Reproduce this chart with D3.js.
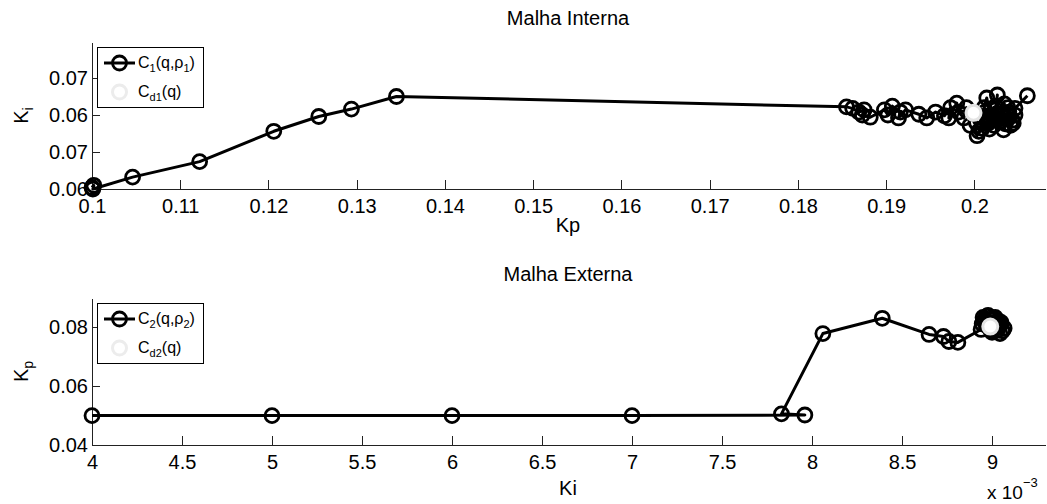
<!DOCTYPE html>
<html>
<head>
<meta charset="utf-8">
<script src="https://cdn.jsdelivr.net/npm/d3@7"></script>
<style>
  body { margin: 0; background: #fff; }
  text { font-family: "Liberation Sans", Arial, Helvetica, sans-serif; fill: #000; }
  .axis path, .axis line { stroke: #222; stroke-width: 1; shape-rendering: crispEdges; }
  .axis text { font-size: 20px; fill: #000; }
</style>
</head>
<body>
<div id="canvas"></div>
<script>
// ---- data: inner loop (Malha Interna) ----
var innerKp = [0.1000,0.1002,0.1001,0.1046,0.1122,0.1206,0.1257,0.1294,0.1345,
  0.1855,0.1862,0.1869,0.1875,0.1873,0.1882,0.1898,0.1902,0.1907,0.1916,0.1914,0.1922,
  0.1937,0.1946,0.1956,0.1966,0.1973,0.1971,0.1980,0.1982,0.1988,0.1991,0.1995,0.2003,
  0.2009,0.2007,0.2014,0.2018,0.2012,0.2022,0.2026,0.2024,0.2029,0.2034,0.2033,0.2039,
  0.2036,0.2041,0.2043,0.2046,0.2021,0.2016,0.2031,0.2044,0.2038,
  0.2005,0.2017,0.2027,0.2011,0.2035,0.2024,0.2008,0.2030,0.2019,0.2040,
  0.2046,0.2060];
var innerKi = [0.0552,0.0555,0.0550,0.0566,0.0587,0.0628,0.0648,0.0658,0.0675,
  0.0661,0.0659,0.0654,0.0657,0.0650,0.0647,0.0657,0.0650,0.0662,0.0654,0.0646,0.0657,
  0.0651,0.0646,0.0654,0.0649,0.0660,0.0646,0.0666,0.0654,0.0646,0.0660,0.0636,0.0622,
  0.0632,0.0643,0.0673,0.0646,0.0654,0.0636,0.0677,0.0657,0.0641,0.0665,0.0630,0.0654,
  0.0646,0.0636,0.0643,0.0650,0.0648,0.0639,0.0652,0.0639,0.0660,
  0.0628,0.0631,0.0645,0.0660,0.0638,0.0662,0.0648,0.0650,0.0643,0.0648,
  0.0659,0.0676];
var innerTarget = [0.1999, 0.0653];
var innerXTicks = [0.1,0.11,0.12,0.13,0.14,0.15,0.16,0.17,0.18,0.19,0.2];
var innerYTicks = [0.055,0.06,0.065,0.07];
var innerYLabels = ['0.06','0.07','0.06','0.07'];

// ---- data: outer loop (Malha Externa), Ki in units of 1e-3 ----
var outerKi = [4,5,6,7,7.96,7.83,8.06,8.39,8.65,8.73,8.76,8.81,
  8.939,8.950,8.978,9.017,9.050,9.067,9.044,9.000,8.967,8.989,9.028,8.956,
  8.945,8.972,9.010,9.040,9.058,9.030,8.995,8.962,8.985,9.020,9.048,9.005,8.958,8.992,9.035];
var outerKp = [0.0500,0.0500,0.0500,0.0500,0.0502,0.0506,0.0779,0.0831,0.0776,0.0769,0.0752,0.0749,
  0.0793,0.0834,0.0841,0.0834,0.0817,0.0797,0.0779,0.0783,0.0807,0.0827,0.0807,0.0821,
  0.0812,0.0838,0.0826,0.0805,0.0788,0.0790,0.0796,0.0818,0.0815,0.0800,0.0810,0.0829,0.0827,0.0790,0.0822];
var outerTarget = [8.99, 0.0803];
var outerXTicks = [4,4.5,5,5.5,6,6.5,7,7.5,8,8.5,9];
var outerYTicks = [0.04,0.06,0.08];

var W = 1047, H = 504;
var svg = d3.select('#canvas').append('svg')
    .attr('width', W).attr('height', H);

function panel(o){
    var g = svg.append('g');
    var x = d3.scaleLinear().domain(o.xDomain).range([92, 1045]);
    var y = d3.scaleLinear().domain(o.yDomain).range([o.bottom, o.top]);

    g.append('text')
        .attr('x', 568).attr('y', o.top - 17)
        .attr('text-anchor', 'middle')
        .style('font-size', '20px')
        .text(o.title);

    var ax = d3.axisBottom(x).tickValues(o.xTicks).tickSizeInner(-9).tickSizeOuter(0)
        .tickPadding(10).tickFormat(o.xFormat);
    g.append('g').attr('class', 'axis')
        .attr('transform', 'translate(0,' + o.bottom + ')')
        .call(ax);

    var ay = d3.axisLeft(y).tickValues(o.yTicks).tickSizeInner(-8).tickSizeOuter(0)
        .tickPadding(4).tickFormat(o.yFormat);
    g.append('g').attr('class', 'axis')
        .attr('transform', 'translate(92,0)')
        .call(ay);

    // x label
    g.append('text')
        .attr('x', 568).attr('y', o.bottom + o.xLabelOff)
        .attr('text-anchor', 'middle')
        .style('font-size', '20px')
        .text(o.xLabel);

    // y label, rotated, with subscript
    var yl = g.append('text')
        .attr('transform', 'translate(28,' + ((o.top + o.bottom) / 2) + ') rotate(-90)')
        .attr('text-anchor', 'middle')
        .style('font-size', '20px');
    yl.append('tspan').text('K');
    yl.append('tspan').attr('dy', 5).style('font-size', '14px').text(o.ySub);

    var pts = o.xs.map(function(v, i){ return [v, o.ys[i]]; });
    var line = d3.line().x(function(d){ return x(d[0]); }).y(function(d){ return y(d[1]); });

    g.append('path').datum(pts)
        .attr('d', line)
        .attr('fill', 'none')
        .attr('stroke', '#000')
        .attr('stroke-width', 3)
        .attr('stroke-linejoin', 'round');

    g.selectAll('.pt').data(pts).enter().append('circle')
        .attr('class', 'pt')
        .attr('cx', function(d){ return x(d[0]); })
        .attr('cy', function(d){ return y(d[1]); })
        .attr('r', 7)
        .attr('fill', 'none')
        .attr('stroke', '#000')
        .attr('stroke-width', 2.8);

    g.append('circle')
        .attr('cx', x(o.target[0])).attr('cy', y(o.target[1]))
        .attr('r', 7.5)
        .attr('fill', '#fff')
        .attr('stroke', '#e4e4e4')
        .attr('stroke-width', 3);

    // legend
    var lx = 97, ly = o.top + 5;
    var lg = g.append('g').attr('transform', 'translate(' + lx + ',' + ly + ')');
    lg.append('rect').attr('width', 106).attr('height', 60)
        .attr('fill', '#fff').attr('stroke', '#000').attr('stroke-width', 1)
        .attr('shape-rendering', 'crispEdges');
    lg.append('line').attr('x1', 7).attr('x2', 38).attr('y1', 16).attr('y2', 16)
        .attr('stroke', '#000').attr('stroke-width', 3);
    lg.append('circle').attr('cx', 22.5).attr('cy', 16).attr('r', 7)
        .attr('fill', 'none').attr('stroke', '#000').attr('stroke-width', 2.8);
    lg.append('circle').attr('cx', 22.5).attr('cy', 45).attr('r', 7)
        .attr('fill', '#fff').attr('stroke', '#ececec').attr('stroke-width', 3);

    var t1 = lg.append('text').attr('x', 41).attr('y', 21).style('font-size', '16px');
    t1.append('tspan').text('C');
    t1.append('tspan').attr('dy', 4).style('font-size', '11px').text(o.idx);
    t1.append('tspan').attr('dy', -4).text('(q,ρ');
    t1.append('tspan').attr('dy', 4).style('font-size', '11px').text(o.idx);
    t1.append('tspan').attr('dy', -4).text(')');

    var t2 = lg.append('text').attr('x', 41).attr('y', 50).style('font-size', '16px');
    t2.append('tspan').text('C');
    t2.append('tspan').attr('dy', 4).style('font-size', '11px').text('d' + o.idx);
    t2.append('tspan').attr('dy', -4).text('(q)');

    return g;
}

panel({
    title: 'Malha Interna', top: 42, bottom: 189, xLabelOff: 43,
    xDomain: [0.1, 0.208], yDomain: [0.055, 0.055 + 147 / 7400],
    xTicks: innerXTicks, yTicks: innerYTicks,
    xFormat: function(d){ return String(+d.toFixed(2)); },
    yFormat: function(d, i){ return innerYLabels[i]; },
    xLabel: 'Kp', ySub: 'i',
    xs: innerKp, ys: innerKi, target: innerTarget, idx: '1'
});

panel({
    title: 'Malha Externa', top: 298, bottom: 445, xLabelOff: 50,
    xDomain: [4, 9.294], yDomain: [0.04, 0.09],
    xTicks: outerXTicks, yTicks: outerYTicks,
    xFormat: function(d){ return String(d); },
    yFormat: function(d){ return d.toFixed(2); },
    xLabel: 'Ki', ySub: 'p',
    xs: outerKi, ys: outerKp, target: outerTarget, idx: '2'
});

// exponent note
var ex = svg.append('text').attr('x', 987).attr('y', 499).style('font-size', '19px');
ex.append('tspan').text('x 10');
ex.append('tspan').attr('dy', -12).style('font-size', '13px').text('−3');
</script>
</body>
</html>
